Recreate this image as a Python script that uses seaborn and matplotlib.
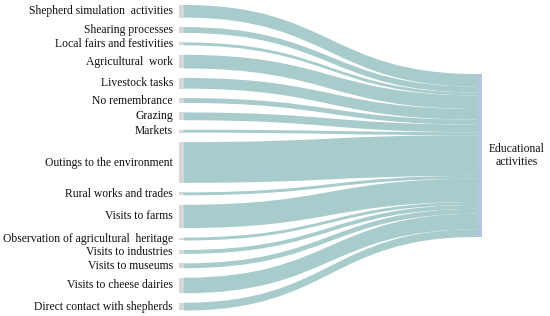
import numpy as np
import matplotlib.pyplot as plt
import seaborn as sns
from matplotlib.path import Path
from matplotlib.patches import PathPatch, Rectangle

# left nodes (sources), top to bottom, all flowing into one target
sources = [
    "Shepherd simulation  activities",
    "Shearing processes",
    "Local fairs and festivities",
    "Agricultural  work",
    "Livestock tasks",
    "No remembrance",
    "Grazing",
    "Markets",
    "Outings to the environment",
    "Rural works and trades",
    "Visits to farms",
    "Observation of agricultural  heritage",
    "Visits to industries",
    "Visits to museums",
    "Visits to cheese dairies",
    "Direct contact with shepherds",
]
values = [13, 6, 3, 14, 11, 5, 8, 3, 42, 3, 24, 3, 4, 5, 16, 8]
target = "Educational\nactivities"

link_color = "#a8cbcb"
source_color = "#d9d6d9"
target_color = "#b3c5df"

sns.set_theme(style="white")
plt.rcParams['font.family'] = ['Liberation Serif', 'DejaVu Serif']

fig = plt.figure(figsize=(5.5, 3.16), dpi=100)
ax = fig.add_axes([0, 0, 1, 1])
ax.set_xlim(0, 550)
ax.set_ylim(316, 0)
ax.axis('off')

# layout in pixel-like units
scale = 0.97
top, bottom = 5, 310.5
node_w = 5
x_left, x_right = 179, 477
h = np.array(values, dtype=float) * scale
pad = (bottom - top - h.sum()) / (len(values) - 1)
y_left = top + np.concatenate([[0], np.cumsum(h[:-1] + pad)])
right_h = h.sum()
right_top = 155.5 - right_h / 2
y_right = right_top + np.concatenate([[0], np.cumsum(h[:-1])])

xa = x_left + node_w
xb = x_right
xm = (xa + xb) / 2
for ys, yt, hh in zip(y_left, y_right, h):
    verts = [
        (xa, ys), (xm, ys), (xm, yt), (xb, yt),
        (xb, yt + hh), (xm, yt + hh), (xm, ys + hh), (xa, ys + hh),
        (xa, ys),
    ]
    codes = [Path.MOVETO, Path.CURVE4, Path.CURVE4, Path.CURVE4,
             Path.LINETO, Path.CURVE4, Path.CURVE4, Path.CURVE4,
             Path.CLOSEPOLY]
    ax.add_patch(PathPatch(Path(verts, codes), facecolor=link_color,
                           edgecolor='none', lw=0))

for name, ys, hh in zip(sources, y_left, h):
    ax.add_patch(Rectangle((x_left, ys), node_w, hh, facecolor=source_color,
                           edgecolor='none'))
    ax.text(x_left - 6, ys + hh / 2, name, ha='right', va='center',
            fontsize=8.4, color='#111111')

ax.add_patch(Rectangle((x_right, right_top), node_w, right_h,
                       facecolor=target_color, edgecolor='none'))
ax.text(517, right_top + right_h / 2, target, ha='center', va='center',
        fontsize=8.4, color='#111111', linespacing=1.15)

fig.savefig("out.png", dpi=100)
